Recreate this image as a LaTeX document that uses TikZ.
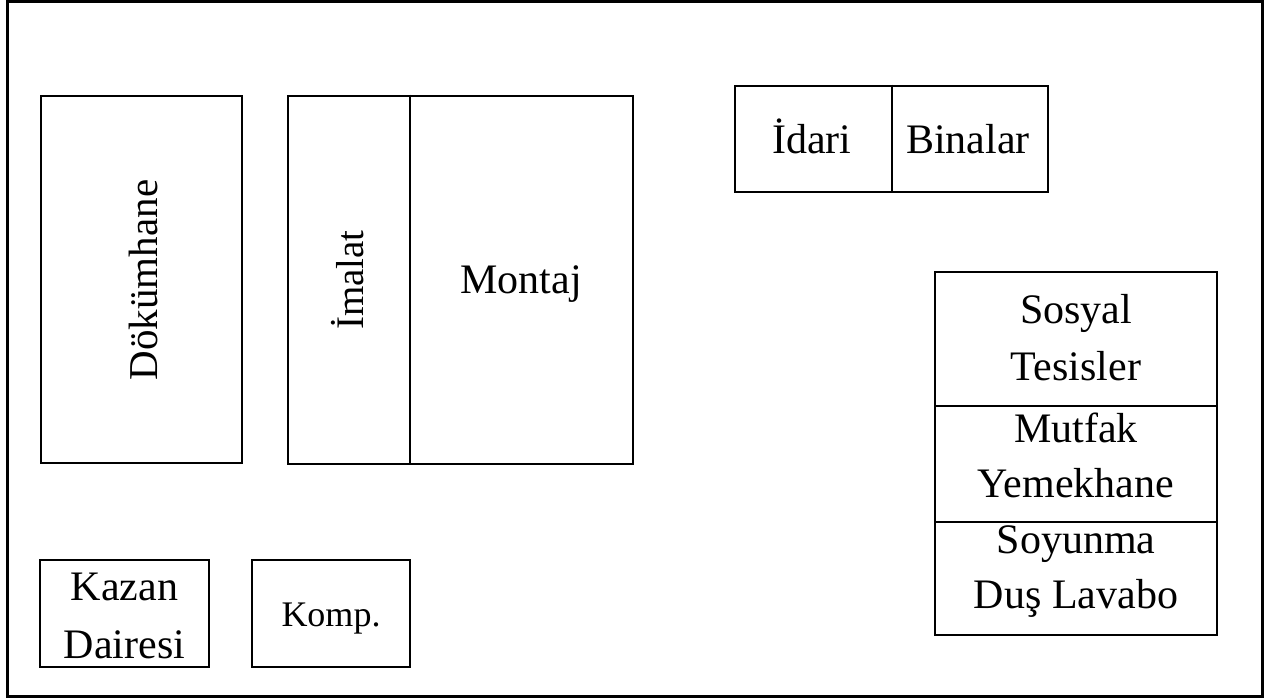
\documentclass[tikz,border=0pt]{standalone}
\usepackage{fontspec}
\setmainfont{Liberation Serif}
\begin{document}
\begin{tikzpicture}[x=1pt,y=-1pt,
  room/.style={draw=black, line width=2.7pt, inner sep=0pt, align=center, font=\fontsize{42}{55}\selectfont},
  part/.style={draw=black, line width=2pt},
  lbl/.style={font=\fontsize{42}{50}\selectfont, inner sep=0pt}]
\useasboundingbox (0,0) rectangle (1270,699);
\node[draw=black, line width=3pt, minimum width=1255pt, minimum height=695pt, inner sep=0pt] (site) at (634.5,348.5) {};
% Dökümhane
\node[room, minimum width=201pt, minimum height=367pt] (dok) at (141.5,279.5) {};
\node[lbl, font=\fontsize{41}{50}\selectfont, rotate=90] (doklbl) at (143,280) {Dökümhane};
% İmalat + Montaj
\node[room, minimum width=345pt, minimum height=368pt] (im) at (460.5,280) {};
\draw[part] (im.north west -| 410,0) coordinate (imt) -- (im.south west -| 410,0) coordinate (imb);
\node[lbl, font=\fontsize{39}{50}\selectfont, rotate=90] (imlbl) at (348,280) {İmalat};
\node[lbl, anchor=base] (montaj) at (521,293) {Montaj};
% İdari Binalar
\node[room, minimum width=313pt, minimum height=106pt] (idari) at (891.5,139) {};
\draw[part] (idari.north -| 892,0) -- (idari.south -| 892,0);
\node[lbl, anchor=base] (idlbl) at (812,153) {İdari};
\node[lbl, anchor=base] (binlbl) at (968,153) {Binalar};
% Sosyal
\node[room, minimum width=282pt, minimum height=134pt] (sos) at (1076,339) {};
\node[room, minimum width=282pt, minimum height=116pt] (mut) at (1076,464) {};
\node[room, minimum width=282pt, minimum height=113pt] (soy) at (1076,578.5) {};
\node[lbl, anchor=base] (sos1) at (1076,323) {Sosyal};
\node[lbl, anchor=base] (sos2) at (1076,380) {Tesisler};
\node[lbl, anchor=base] (mut1) at (1076,442) {Mutfak};
\node[lbl, anchor=base] (mut2) at (1076,497) {Yemekhane};
\node[lbl, anchor=base] (soy1) at (1076,553) {Soyunma};
\node[lbl, anchor=base] (soy2) at (1076,608) {Duş Lavabo};
% Kazan, Komp
\node[room, minimum width=169pt, minimum height=107pt] (kazan) at (124.5,613.5) {};
\node[lbl, anchor=base] (kaz1) at (124.5,600) {Kazan};
\node[lbl, anchor=base] (kaz2) at (124.5,658) {Dairesi};
\node[room, minimum width=158pt, minimum height=107pt] (komp) at (331,613.5) {};
\node[lbl, anchor=base, font=\fontsize{36}{44}\selectfont] (komplbl) at (331,626) {Komp.};
\end{tikzpicture}
\end{document}
